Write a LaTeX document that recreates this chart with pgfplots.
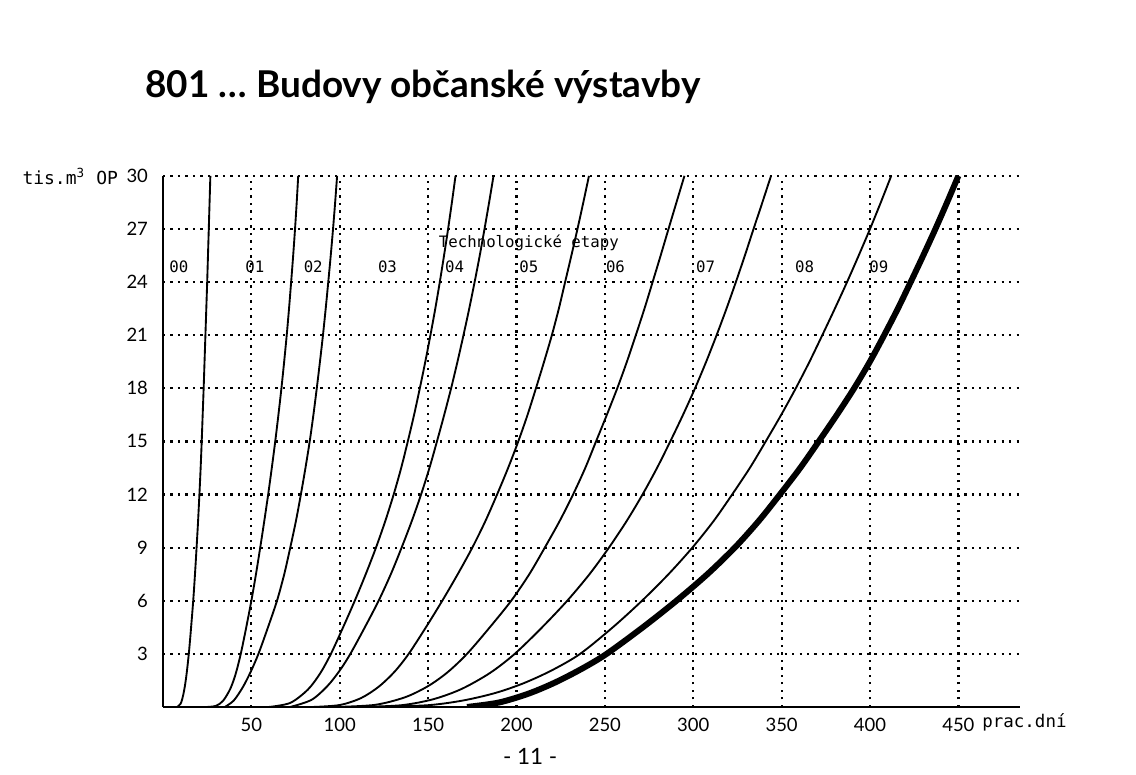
\documentclass[border=0pt]{standalone}
\usepackage{fontspec}
\setmainfont{Lato}
\newfontfamily\monofont{DejaVu Sans Mono}
\usepackage{pgfplots}
\pgfplotsset{compat=1.18}
\begin{document}
\begin{tikzpicture}[x=1cm,y=1cm]
\path[use as bounding box] (-2.295,-0.957) rectangle (13.70,9.954);
\begin{axis}[
  at={(0,0)}, anchor=south west,
  scale only axis, width=12.07cm, height=7.478cm,
  xmin=0, xmax=485, ymin=0, ymax=30,
  axis x line*=bottom, axis y line*=left,
  axis line style={line width=0.9pt, black},
  xtick={50,100,...,450}, ytick={3,6,...,30},
  grid=major,
  major grid style={black, line width=0.9pt, dash pattern=on 0.9pt off 2.1pt},
  major tick length=0pt,
  /pgf/number format/assume math mode=true,
  tick label style={font=\fontsize{7.4}{9}\selectfont},
  yticklabel style={xshift=-2.5pt},
  xticklabel style={yshift=-1pt},
  clip mode=individual,
  curve/.style={black, solid, no markers, line width=0.75pt, smooth},
]
% 00/01 boundary
\addplot[curve] coordinates {(8,0) (10,0.19) (11.5,0.7) (13,1.59) (14.6,3) (15.9,4.5) (17.1,6) (18.1,7.5) (19.0,9) (19.85,10.5) (20.6,12) (21.3,13.5) (21.9,15) (22.45,16.5) (23.0,18) (23.5,19.5) (24.0,21) (24.5,22.5) (25.0,24) (25.45,25.5) (25.9,27) (26.35,28.5) (26.8,30)};
% 01/02
\addplot[curve] coordinates {(25,0) (30,0.064) (34,0.35) (38,1.01) (41,1.83) (44,3) (47.1,4.5) (50,6) (52.6,7.5) (55,9) (57.3,10.5) (59.5,12) (61.55,13.5) (63.5,15) (65.3,16.5) (67,18) (68.55,19.5) (70,21) (71.3,22.5) (72.5,24) (73.65,25.5) (74.7,27) (75.65,28.5) (76.5,30)};
% 02/03
\addplot[curve] coordinates {(35,0) (40,0.36) (45,1.09) (49.5,1.96) (54,3) (59.4,4.5) (64.5,6) (68.6,7.5) (72,9) (75.2,10.5) (78,12) (80.6,13.5) (83,15) (85.1,16.5) (87,18) (88.8,19.5) (90.5,21) (92.05,22.5) (93.5,24) (94.9,25.5) (96.2,27) (97.4,28.5) (98.5,30)};
% 03/04
\addplot[curve] coordinates {(60,0) (72,0.23) (82,0.985) (89,1.91) (95,3) (101.9,4.5) (108.5,6) (114.7,7.5) (120.5,9) (125.75,10.5) (130.5,12) (134.75,13.5) (138.5,15) (142.05,16.5) (145.3,18) (148.4,19.5) (151.3,21) (154.05,22.5) (156.6,24) (159,25.5) (161.3,27) (163.45,28.5) (165.5,30)};
% 04/05
\addplot[curve] coordinates {(72,0) (84,0.4) (93,1.18) (100,2.06) (106,3) (114.2,4.5) (122,6) (128.9,7.5) (135,9) (140.75,10.5) (146,12) (150.75,13.5) (155,15) (159.1,16.5) (163,18) (166.6,19.5) (170,21) (173.25,22.5) (176.3,24) (179.2,25.5) (181.9,27) (184.5,28.5) (187,30)};
% 05/06
\addplot[curve] coordinates {(85,0) (100,0.11) (112,0.5) (122,1.14) (131,1.99) (139,3) (148.75,4.5) (158,6) (166.75,7.5) (175,9) (182.4,10.5) (189,12) (195.25,13.5) (201,15) (206.25,16.5) (211,18) (215.6,19.5) (220,21) (223.95,22.5) (227.5,24) (231.05,25.5) (234.5,27) (237.8,28.5) (241,30)};
% 06/07
\addplot[curve] coordinates {(98,0) (120,0.12) (137,0.55) (150,1.18) (161,1.96) (172,3) (184.9,4.5) (197,6) (207.25,7.5) (216,9) (224.4,10.5) (232,12) (238.9,13.5) (245,15) (251.1,16.5) (257,18) (262.45,19.5) (267.5,21) (272.4,22.5) (277,24) (281.55,25.5) (286,27) (290.5,28.5) (295,30)};
% 07/08
\addplot[curve] coordinates {(112,0) (135,0.1) (153,0.44) (169,1.02) (185,1.92) (199,3) (214.5,4.5) (228.7,6) (241.3,7.5) (252.3,9) (262.3,10.5) (271.3,12) (279.5,13.5) (287,15) (294.2,16.5) (301,18) (307.3,19.5) (313.2,21) (318.8,22.5) (324.1,24) (329.2,25.5) (334.1,27) (339.1,28.5) (344,30)};
% 08/09
\addplot[curve] coordinates {(120,0) (150,0.1) (170,0.37) (188,0.79) (204,1.34) (220,2.07) (236,3) (254.5,4.5) (271,6) (286,7.5) (299.5,9) (311.5,10.5) (322,12) (332,13.5) (341,15) (349.75,16.5) (358,18) (365.75,19.5) (373,21) (380.1,22.5) (387,24) (393.6,25.5) (400,27) (406.1,28.5) (412,30)};
% end of 09 (thick)
\addplot[curve, line width=2.4pt] coordinates {(172,0) (190,0.25) (207,0.76) (222,1.39) (237,2.16) (251,3) (271.5,4.5) (290.5,6) (308,7.5) (323.5,9) (337,10.5) (349,12) (360.5,13.5) (371,15) (381.25,16.5) (391,18) (399.9,19.5) (408,21) (415.75,22.5) (423,24) (430.1,25.5) (437,27) (443.6,28.5) (450,30)};
% stage labels
\begin{scope}[every node/.style={font=\monofont\fontsize{6.3}{8}\selectfont, inner sep=0pt}]
\node at (axis cs:9,24.85) {00};
\node at (axis cs:52,24.85) {01};
\node at (axis cs:85,24.85) {02};
\node at (axis cs:127,24.85) {03};
\node at (axis cs:165,24.85) {04};
\node at (axis cs:207,24.85) {05};
\node at (axis cs:256,24.85) {06};
\node at (axis cs:307,24.85) {07};
\node at (axis cs:363,24.85) {08};
\node at (axis cs:405,24.85) {09};
\node at (axis cs:207,26.2) {Technologické etapy};
\end{scope}
\end{axis}
\node[anchor=base west, inner sep=0pt, font=\bfseries\fontsize{14.8}{17}\selectfont] at (-0.253,8.575) {801 \dots\ Budovy občanské výstavby};
\node[anchor=base west, inner sep=0pt, font=\monofont\fontsize{7.2}{8}\selectfont] at (-1.985,7.35) {tis.m\textsuperscript{3} OP};
\node[anchor=base west, inner sep=0pt, font=\monofont\fontsize{7}{8}\selectfont] at (11.53,-0.296) {prac.dní};
\node[inner sep=0pt, font=\fontsize{9}{10}\selectfont] at (5.17,-0.70) {- 11 -};
\end{tikzpicture}
\end{document}
